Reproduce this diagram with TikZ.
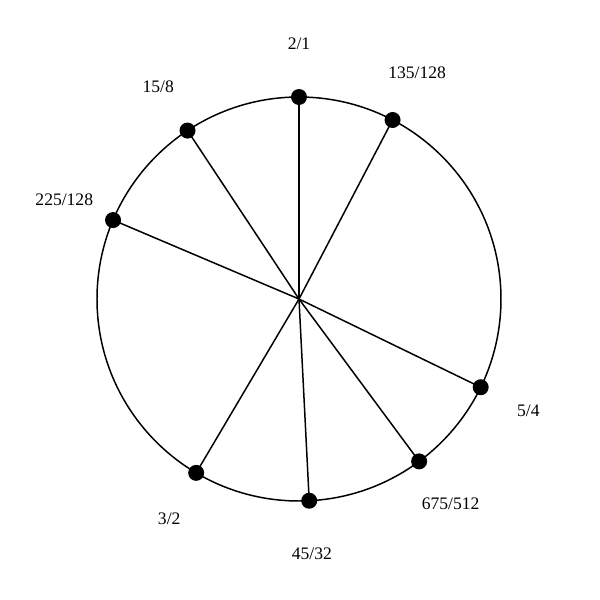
\documentclass[tikz,border=0pt]{standalone}
\usepackage{fontspec}
\setmainfont{Liberation Serif}
\begin{document}
\begin{tikzpicture}[x=0.02cm,y=0.02cm,
  rim/.style={draw=black,line width=0.85pt},
  spoke/.style={draw=black,line width=0.85pt},
  dot/.style={circle,fill=black,inner sep=0pt,minimum size=0.32cm},
  lbl/.style={font=\fontsize{10}{12}\selectfont,inner sep=0pt}]
\useasboundingbox (-299,-301) rectangle (301,299);
\coordinate (c) at (0,0);
\draw[rim] (c) circle (202);
\foreach \n/\a/\t in {a/90/2\slash 1, b/62.4/135\slash 128, d/-25.9/5\slash 4, e/-53.5/675\slash 512, f/-87.1/45\slash 32, g/-120.6/3\slash 2, h/157/225\slash 128, k/123.5/15\slash 8}{
  \node[dot] (\n) at (\a:202) {};
  \draw[spoke] (c) -- (\n.center);
  \node[lbl] (\n l) at (\a:255) {\t};
}
\end{tikzpicture}
\end{document}
